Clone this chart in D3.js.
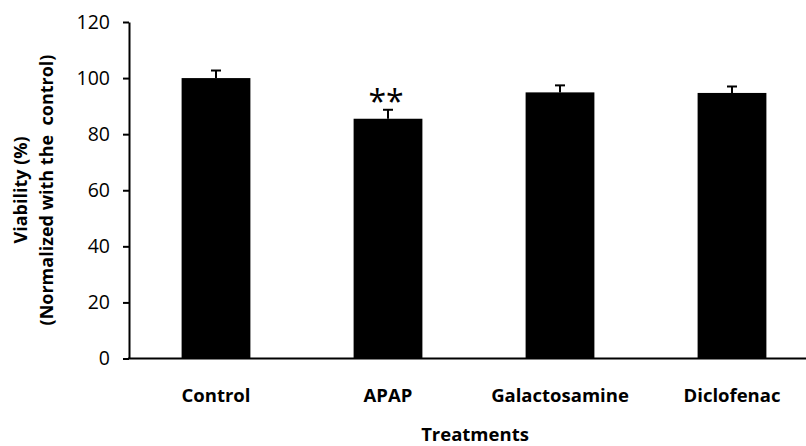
<!DOCTYPE html>
<html><head><meta charset="utf-8">
<script src="https://cdn.jsdelivr.net/npm/d3@7"></script>
<style>body{margin:0;background:#fff}svg{display:block}</style>
</head><body>
<svg id="c" width="806" height="446"></svg>
<script>
const categories = ["Control", "APAP", "Galactosamine", "Diclofenac"];
const means = [100, 85.5, 94.9, 94.7];
const errors = [2.7, 3.2, 2.5, 2.3];
const significance = ["", "**", "", ""];
const yTicks = [0, 20, 40, 60, 80, 100, 120];

const svg = d3.select("#c");
const font = "'Open Sans', sans-serif";
const x = d3.scaleBand().domain(categories).range([130, 818]).paddingInner(0.6).paddingOuter(0.3);
const y = d3.scaleLinear().domain([0, 120]).range([358.5, 22]);

const data = categories.map((c, i) => ({c, m: means[i], e: errors[i], s: significance[i]}));

// bars
svg.append("g").selectAll("rect").data(data).join("rect")
  .attr("x", d => x(d.c)).attr("width", x.bandwidth())
  .attr("y", d => y(d.m)).attr("height", d => y(0) - y(d.m))
  .attr("fill", "#000");

// error bars
const eb = svg.append("g").attr("stroke", "#000").attr("stroke-width", 2);
eb.selectAll("line.v").data(data).join("line").attr("class", "v")
  .attr("x1", d => x(d.c) + x.bandwidth()/2).attr("x2", d => x(d.c) + x.bandwidth()/2)
  .attr("y1", d => y(d.m)).attr("y2", d => y(d.m + d.e));
eb.selectAll("line.h").data(data).join("line").attr("class", "h")
  .attr("x1", d => x(d.c) + x.bandwidth()/2 - 5).attr("x2", d => x(d.c) + x.bandwidth()/2 + 5)
  .attr("y1", d => y(d.m + d.e)).attr("y2", d => y(d.m + d.e));

// significance
svg.append("g").selectAll("text").data(data.filter(d => d.s)).join("text")
  .attr("x", d => x(d.c) + x.bandwidth()/2 - 2).attr("y", d => y(d.m + d.e) + 3)
  .attr("text-anchor", "middle").attr("font-family", font).attr("font-size", 32)
  .text(d => d.s);

// y axis
const ya = svg.append("g").attr("transform", "translate(129,0)")
  .call(d3.axisLeft(y).tickValues(yTicks).tickSize(6).tickSizeOuter(0));
ya.select(".domain").attr("stroke-width", 2);
ya.selectAll(".tick line").attr("stroke-width", 2);
ya.selectAll(".tick text").attr("font-family", font).attr("font-size", 19.5).attr("fill", "#000").attr("x", -19);

// x axis line
svg.append("line").attr("x1", 128).attr("x2", 806).attr("y1", y(0)).attr("y2", y(0))
  .attr("stroke", "#000").attr("stroke-width", 2);

// category labels
svg.append("g").selectAll("text").data(categories).join("text")
  .attr("x", d => x(d) + x.bandwidth()/2).attr("y", 402)
  .attr("text-anchor", "middle").attr("font-family", font).attr("font-weight", "bold")
  .attr("font-size", 18.5).text(d => d);

// axis titles
svg.append("text").attr("x", 475).attr("y", 441).attr("text-anchor", "middle")
  .attr("font-family", font).attr("font-weight", "bold").attr("font-size", 18.5).text("Treatments");

const yt = svg.append("text").attr("transform", "translate(0,190) rotate(-90)")
  .attr("text-anchor", "middle").attr("font-family", font).attr("font-weight", "bold").attr("font-size", 18);
yt.append("tspan").attr("x", 0).attr("y", 27).text("Viability (%)");
yt.append("tspan").attr("x", 0).attr("y", 53).attr("xml:space", "preserve").style("white-space", "pre").text("(Normalized with the  control)");
</script>
</body></html>
